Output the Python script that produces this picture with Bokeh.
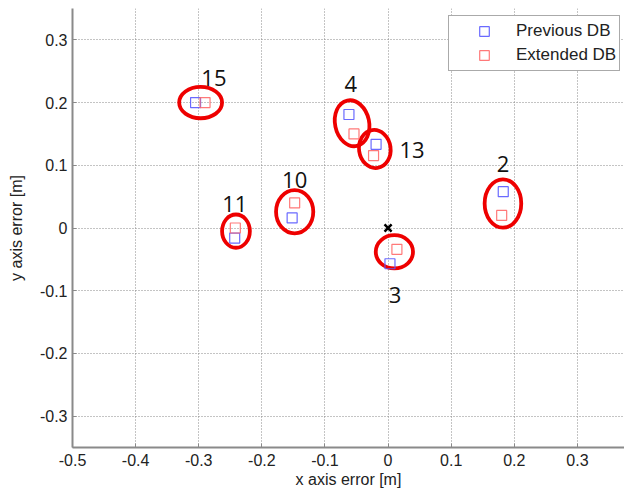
from bokeh.plotting import figure
from bokeh.models import ColumnDataSource, Range1d, Legend, LegendItem, FixedTicker
from bokeh.core.properties import value
from bokeh.embed import file_html
from bokeh.resources import INLINE
import math

# ---- data ----
point_ids = ["15", "11", "10", "4", "13", "2", "3"]
prev_x = [-0.305, -0.243, -0.152, -0.062, -0.019, 0.1825, 0.003]
prev_y = [0.200, -0.016, 0.016, 0.181, 0.1335, 0.058, -0.057]
ext_x = [-0.290, -0.242, -0.148, -0.054, -0.023, 0.180, 0.014]
ext_y = [0.200, 0.000, 0.040, 0.150, 0.1155, 0.020, -0.034]
ell_x = [-0.297, -0.241, -0.148, -0.057, -0.021, 0.182, 0.010]
ell_y = [0.200, -0.005, 0.026, 0.167, 0.126, 0.039, -0.038]
ell_w = [0.068, 0.044, 0.059, 0.054, 0.050, 0.058, 0.059]
ell_h = [0.050, 0.053, 0.069, 0.074, 0.061, 0.077, 0.053]
ell_angle_deg = [0, 0, 0, 12, 8, 0, 0]
label_x = [-0.276, -0.243, -0.148, -0.059, 0.038, 0.182, 0.011]
label_y = [0.2395, 0.039, 0.076, 0.230, 0.125, 0.1027, -0.107]
origin_x = [0.0]
origin_y = [0.0]
x_ticks = [-0.5, -0.4, -0.3, -0.2, -0.1, 0.0, 0.1, 0.2, 0.3]
y_ticks = [-0.3, -0.2, -0.1, 0.0, 0.1, 0.2, 0.3]
x_tick_labels = {-0.5: "-0.5", -0.4: "-0.4", -0.3: "-0.3", -0.2: "-0.2", -0.1: "-0.1",
                 0.0: "0", 0.1: "0.1", 0.2: "0.2", 0.3: "0.3"}
y_tick_labels = {-0.3: "-0.3", -0.2: "-0.2", -0.1: "-0.1", 0.0: "0",
                 0.1: "0.1", 0.2: "0.2", 0.3: "0.3"}

p = figure(width=624, height=492, output_backend="svg", toolbar_location=None,
           x_range=Range1d(-0.5, 0.3746), y_range=Range1d(-0.35, 0.35),
           min_border_left=72, min_border_right=0, min_border_top=8, min_border_bottom=45)
p.outline_line_color = None
p.background_fill_color = "white"
p.border_fill_color = "white"

font = "Liberation Sans"
for ax in (p.xaxis[0], p.yaxis[0]):
    ax.axis_line_color = "#8a8a8a"
    ax.axis_line_width = 2
    ax.major_tick_line_color = "#8a8a8a"
    ax.major_tick_in = 4
    ax.major_tick_out = 0
    ax.minor_tick_line_color = None
    ax.major_label_text_font = font
    ax.major_label_text_font_size = "16px"
    ax.major_label_text_color = "#222222"
    ax.axis_label_text_font = font
    ax.axis_label_text_font_size = "16px"
    ax.axis_label_text_font_style = "normal"
    ax.axis_label_text_color = "#222222"

p.xaxis.ticker = FixedTicker(ticks=x_ticks)
p.yaxis.ticker = FixedTicker(ticks=y_ticks)
p.xaxis.major_label_overrides = x_tick_labels
p.yaxis.major_label_overrides = y_tick_labels
p.xaxis.axis_label = "x axis error [m]"
p.yaxis.axis_label = "y axis error [m]"
p.xaxis.major_label_standoff = 6
p.xaxis.axis_label_standoff = 2
p.yaxis.major_label_standoff = 5
p.yaxis.axis_label_standoff = 12

p.xgrid.ticker = FixedTicker(ticks=x_ticks)
p.ygrid.ticker = FixedTicker(ticks=y_ticks)
for g in (p.xgrid[0], p.ygrid[0]):
    g.grid_line_color = "#888888"
    g.grid_line_dash = "1 2"
    g.grid_line_width = 1

ell_src = ColumnDataSource(dict(x=ell_x, y=ell_y, w=ell_w, h=ell_h,
                                a=[math.radians(d) for d in ell_angle_deg]))
p.ellipse(x="x", y="y", width="w", height="h", angle="a", source=ell_src,
          fill_color=None, line_color="#ee0000", line_width=3.8)

r_prev = p.scatter(prev_x, prev_y, marker="square", size=10, fill_color=None,
                   line_color="#5a5aff", line_width=1.2, line_alpha=0.9)
r_ext = p.scatter(ext_x, ext_y, marker="square", size=10, fill_color=None,
                  line_color="#ff6a6a", line_width=1.2, line_alpha=0.9)

p.scatter(origin_x, origin_y, marker="x", size=10, line_color="black", line_width=2.5)

p.text(x=label_x, y=label_y, text=point_ids, text_font=value("Open Sans"),
       text_font_size="22px", text_color="#111111", text_align="center",
       text_baseline="middle")

legend = Legend(items=[LegendItem(label="Previous DB", renderers=[r_prev]),
                       LegendItem(label="Extended DB", renderers=[r_ext])],
                location=(376, 376))
legend.border_line_color = "#555555"
legend.border_line_width = 1.5
legend.background_fill_color = "white"
legend.background_fill_alpha = 1
legend.label_text_font = font
legend.label_text_font_size = "17px"
legend.label_text_color = "#222222"
legend.glyph_width = 64
legend.glyph_height = 24
legend.label_standoff = 0
legend.spacing = 0
legend.padding = 3
legend.margin = 0
legend.label_height = 24
p.add_layout(legend)

open("out.html", "w").write(file_html(p, INLINE))
